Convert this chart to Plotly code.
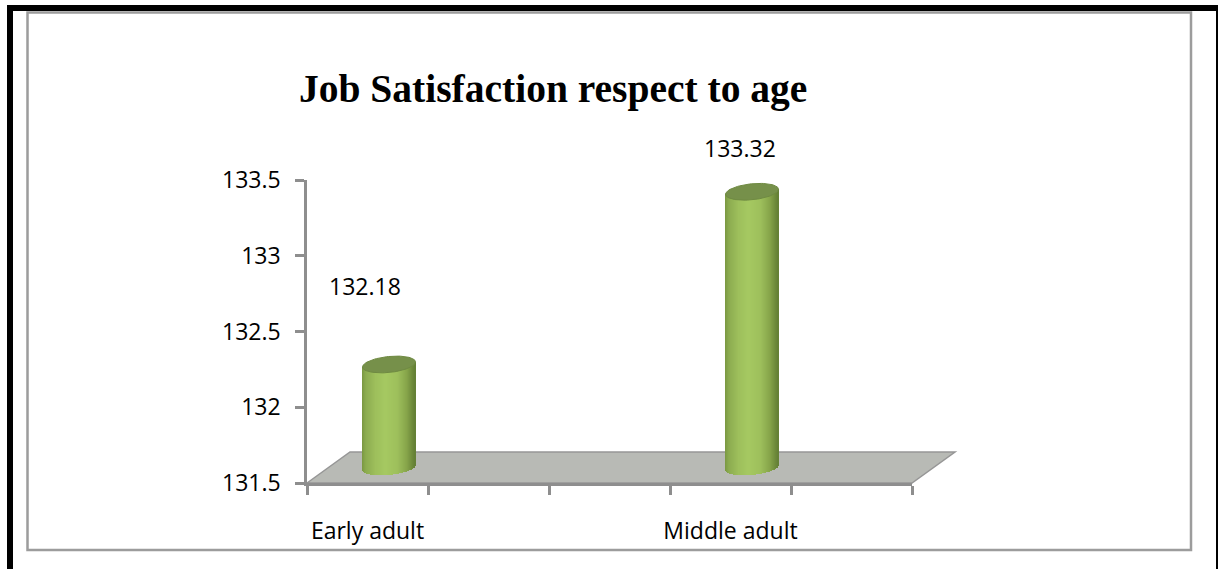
import numpy as np
import plotly.graph_objects as go

categories = ["Early adult", "Middle adult"]
category_slots = [0, 3]
values = [132.18, 133.32]
value_labels = ["132.18", "133.32"]
y_ticks = [131.5, 132, 132.5, 133, 133.5]
y_tick_labels = ["131.5", "132", "132.5", "133", "133.5"]
title_text = "Job Satisfaction respect to age"

W, H = 1218, 569
L, R, T, B = 307, 912, 180, 483
slot_count = 5
y_min, y_max = 131.5, 133.5
px_x = (R - L) / slot_count
px_y = (B - T) / (y_max - y_min)
LABEL_FONT = "Open Sans"
LABEL_SIZE = 23
AXIS_COLOR = "#8E8E8E"


def paper_x(p):
    return (p - L) / (R - L)


def paper_y(p):
    return (B - p) / (B - T)


depth_dx, depth_dy = 21.5 / px_x, 15.5 / px_y
half_w = 26.5 / px_x
ell_h_top, ell_h_bottom = 8 / px_y, 7.5 / px_y
tilt = 2.5 / px_y

stops_u = [-1.0, -0.86, -0.5, -0.1, 0.35, 0.7, 0.92, 1.0]
stops_rgb = np.array([
    [122, 152, 66], [140, 172, 80], [158, 192, 92], [166, 201, 98],
    [158, 192, 92], [134, 164, 74], [108, 136, 58], [100, 128, 54],
], dtype=float)


def shade(u):
    return "rgb(%d,%d,%d)" % tuple(np.interp(u, stops_u, stops_rgb[:, k]) for k in range(3))


fig = go.Figure()
n_slices = 54
for slot, val in zip(category_slots, values):
    cx = slot + 0.5 + depth_dx
    edges = np.linspace(-1, 1, n_slices + 1)
    us = (edges[:-1] + edges[1:]) / 2
    xs = cx + us * half_w
    bases = y_min + depth_dy - ell_h_bottom * np.sqrt(1 - us ** 2) + tilt * us
    tops = val + depth_dy + tilt * us
    fig.add_trace(go.Bar(
        x=xs, y=tops - bases, base=bases,
        width=half_w * 2 / n_slices * 1.25,
        marker=dict(color=[shade(u) for u in us], line=dict(width=0)),
        cliponaxis=False, showlegend=False, hoverinfo="skip",
    ))
    t = np.linspace(0, 2 * np.pi, 80)
    fig.add_trace(go.Scatter(
        x=cx + half_w * np.cos(t),
        y=val + depth_dy + tilt * np.cos(t) + ell_h_top * np.sin(t),
        mode="lines", fill="toself", fillcolor="#76904A",
        line=dict(color="#6F8A42", width=1),
        cliponaxis=False, showlegend=False, hoverinfo="skip",
    ))

shapes = []
for x0, x1, y0, y1 in [(7, 1218, 5, 11), (7, 13, 5, 569), (1216, 1218, 5, 569)]:
    shapes.append(dict(type="rect", layer="below", xref="paper", yref="paper",
                       x0=paper_x(x0), x1=paper_x(x1), y0=paper_y(y0), y1=paper_y(y1),
                       fillcolor="black", line=dict(width=0)))
# inner grey frame
shapes.append(dict(type="rect", layer="below", xref="paper", yref="paper",
                   x0=paper_x(27.5), x1=paper_x(1191), y0=paper_y(12.5), y1=paper_y(550),
                   fillcolor="white", line=dict(color="#9C9C9C", width=2.5)))
# floor of the 3-D chart
shapes.append(dict(type="path", layer="below", xref="paper", yref="paper",
                   path="M %f %f L %f %f L %f %f L %f %f Z" % (
                       paper_x(307), paper_y(483), paper_x(350), paper_y(452),
                       paper_x(955), paper_y(452), paper_x(912), paper_y(483)),
                   fillcolor="#B8BAB5", line=dict(color="#969696", width=1.5)))

label_offsets = [(-3, 94), (9, 59)]
annotations = [
    dict(x=slot + 0.5, y=val, text=lab, showarrow=False, xshift=dx, yshift=dy,
         font=dict(family=LABEL_FONT, size=LABEL_SIZE, color="black"))
    for slot, val, lab, (dx, dy) in zip(category_slots, values, value_labels, label_offsets)
]
annotations.append(dict(
    xref="paper", yref="paper", x=paper_x(552.5), y=paper_y(89), yanchor="middle", xanchor="center",
    text="<b>%s</b>" % title_text, showarrow=False,
    font=dict(family="Liberation Serif", size=39.5, color="black"),
))

fig.update_layout(
    width=W, height=H, autosize=False,
    margin=dict(l=L, r=W - R, t=T, b=H - B, pad=0),
    paper_bgcolor="white", plot_bgcolor="rgba(0,0,0,0)",
    barmode="overlay", bargap=0, showlegend=False,
    shapes=shapes, annotations=annotations,
    font=dict(family=LABEL_FONT, size=LABEL_SIZE, color="black"),
    xaxis=dict(
        range=[0, slot_count], showgrid=False, zeroline=False,
        showline=True, linecolor=AXIS_COLOR, linewidth=2.5,
        tickmode="array", tickvals=[s + 0.5 for s in category_slots], ticktext=categories,
        ticks="", ticklabelstandoff=26,
        minor=dict(ticks="outside", ticklen=9, tickwidth=2.5, tickcolor=AXIS_COLOR,
                   tick0=0, dtick=1, showgrid=False),
    ),
    yaxis=dict(
        range=[y_min, y_max], showgrid=False, zeroline=False,
        showline=True, linecolor=AXIS_COLOR, linewidth=2.5,
        tickmode="array", tickvals=y_ticks, ticktext=y_tick_labels,
        ticks="outside", ticklen=9, tickwidth=2.5, tickcolor=AXIS_COLOR,
        ticklabelstandoff=10,
    ),
)

fig.write_html("out.html", config={"displayModeBar": False},
               post_script="document.body.style.margin='0';document.body.style.overflow='hidden';")
